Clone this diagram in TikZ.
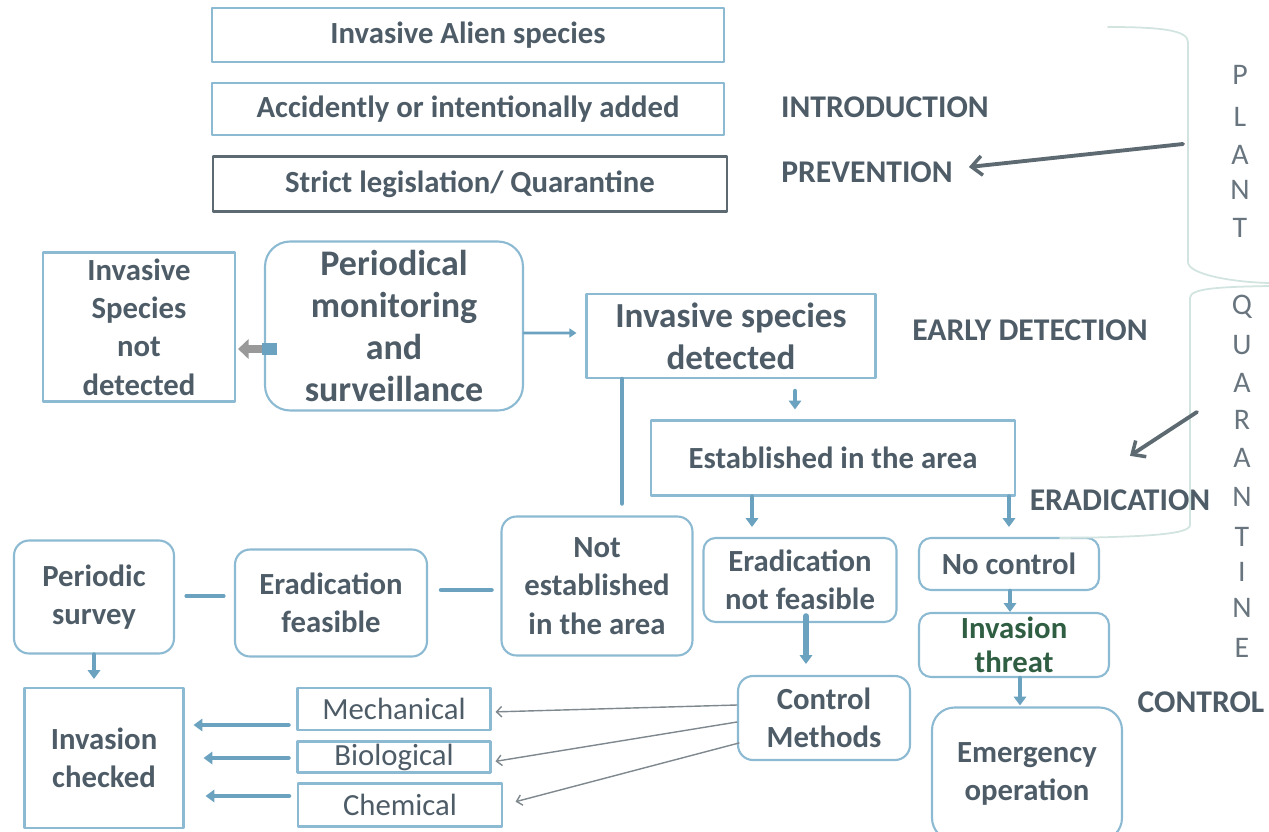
\documentclass[tikz,border=0pt]{standalone}
\usepackage{fontspec}
\setmainfont{Carlito}
\usetikzlibrary{arrows.meta}
\definecolor{boxline}{HTML}{8CBAD2}
\definecolor{txt}{HTML}{4E5C67}
\definecolor{flow}{HTML}{6AA2C0}
\definecolor{pointer}{HTML}{5E6A72}
\definecolor{brace}{HTML}{D2E4E0}
\definecolor{threattxt}{HTML}{2F5E42}
\begin{document}
\begin{tikzpicture}[x=0.02cm,y=-0.02cm,line cap=round,line join=round,
    box/.style={draw=boxline,line width=1.2pt,text=txt,align=center,inner sep=0pt,
      font=\bfseries\fontsize{17.5}{21.8}\selectfont},
    rbox/.style={box,rounded corners=0.3cm},
    method/.style={box,font=\fontsize{17.5}{20}\selectfont},
    lab/.style={text=txt,font=\bfseries\fontsize{18}{21}\selectfont},
    letter/.style={text=txt!85,font=\fontsize{17}{20}\selectfont},
    flow/.style={draw=flow,line width=2.6pt,-{Triangle[width=7pt,length=5pt]}},
    link/.style={draw=flow,line width=2.6pt},
    pointer/.style={draw=pointer,line width=2.2pt,-{Straight Barb[width=11pt,length=6pt,line width=2pt]}},
    thin/.style={draw=pointer!80,line width=0.8pt,-{Straight Barb[width=6pt,length=3pt]}}]
  \useasboundingbox (0,0) rectangle (1269,832);
  % introduction
  \node[box,minimum width=10.24cm,minimum height=1.08cm] (alien) at (468,35) {Invasive Alien species};
  \node[box,minimum width=10.24cm,minimum height=1.04cm] (added) at (468,109) {Accidently or intentionally added};
  \node[box,draw=pointer,minimum width=10.28cm,minimum height=1.1cm] (law) at (470,184) {Strict legislation/ Quarantine};
  % early detection
  \node[box,minimum width=3.84cm,minimum height=2.98cm] (notdet) at (139,327) {Invasive\\Species\\not\\detected};
  \node[box,rounded corners=0.5cm,minimum width=5.16cm,minimum height=3.38cm,
    font=\bfseries\fontsize{20.5}{23.8}\selectfont] (monitor) at (394,326) {Periodical\\monitoring\\and\\surveillance};
  \node[box,minimum width=5.78cm,minimum height=1.68cm,
    font=\bfseries\fontsize{20}{23.8}\selectfont] (detected) at (731,336) {Invasive species\\detected};
  \node[box,minimum width=7.28cm,minimum height=1.5cm] (established) at (833,458) {Established in the area};
  % eradication
  \node[rbox,minimum width=3.82cm,minimum height=2.78cm] (notest) at (597,586) {Not\\established\\in the area};
  \node[rbox,minimum width=3.84cm,minimum height=2.14cm] (feasible) at (331,603) {Eradication\\feasible};
  \node[rbox,minimum width=3.2cm,minimum height=2.26cm] (survey) at (94,597) {Periodic\\survey};
  \node[box,minimum width=3.18cm,minimum height=2.8cm] (checked) at (104,758) {Invasion\\checked};
  \node[rbox,rounded corners=0.24cm,minimum width=3.86cm,minimum height=1.68cm] (notfeasible) at (800,580) {Eradication\\not feasible};
  \node[rbox,rounded corners=0.24cm,minimum width=3.6cm,minimum height=1.04cm] (nocontrol) at (1009,564) {No control};
  % control
  \node[rbox,rounded corners=0.24cm,minimum width=3.8cm,minimum height=1.28cm,text=threattxt,
    font=\bfseries\fontsize{17.5}{19.3}\selectfont] (threat) at (1014,645) {Invasion\\threat};
  \node[rbox,minimum width=3.44cm,minimum height=1.68cm] (methods) at (824,718) {Control\\Methods};
  \node[rbox,rounded corners=0.45cm,minimum width=3.8cm,minimum height=2.66cm] (emergency) at (1027,774) {Emergency\\operation};
  \node[method,minimum width=3.86cm,minimum height=0.84cm] (mechanical) at (394,709) {Mechanical};
  \node[method,minimum width=3.86cm,minimum height=0.62cm] (biological) at (394,757) {Biological};
  \node[method,minimum width=4.08cm,minimum height=0.86cm] (chemical) at (400,805) {Chemical};
  % stage labels
  \node[lab] (introduction) at (885,107) {INTRODUCTION};
  \node[lab] (prevention) at (867,172) {PREVENTION};
  \node[lab] (early) at (1030,330) {EARLY DETECTION};
  \node[lab] (eradication) at (1120,500) {ERADICATION};
  \node[lab] (control) at (1201,702) {CONTROL};
  \foreach \l/\y [count=\i] in {P/75,L/117,A/155,N/190,T/228}
    \node[letter] (plant-\i) at (1240,\y) {\l};
  \foreach \l/\y [count=\i] in {Q/307,U/345,A/383,R/420,A/458,N/497,T/537,I/572,N/608,E/648}
    \node[letter] (quar-\i) at (1242,\y) {\l};
  % faint brackets
  \draw[brace,line width=1pt] (1108,27) .. controls (1160,27) and (1188,30) .. (1188,42) -- (1188,262)
    .. controls (1188,274) and (1230,282) .. (1269,283);
  \draw[brace,line width=1pt] (1269,286) .. controls (1220,287) and (1190,288) .. (1190,298) -- (1190,525)
    .. controls (1190,534) and (1150,537) .. (1060,538);
  \coordinate (plant-in) at (1183,144);
  \coordinate (quar-in) at (1197,412);
  \draw[pointer] (plant-in) -- ([xshift=0.2cm,yshift=0.1cm]prevention.east);
  \draw[pointer] (quar-in) -- ([xshift=0.2cm,yshift=0.55cm]eradication.north);
  % connectors
  \draw[draw=gray!80,line width=4.5pt,-{Triangle[width=11pt,length=6pt]}]
    ([yshift=-0.46cm]monitor.west) -- ([yshift=-0.44cm,xshift=0.04cm]notdet.east);
  \fill[color=flow] ([xshift=-0.04cm,yshift=-0.34cm]monitor.west) rectangle ([xshift=0.26cm,yshift=-0.58cm]monitor.west);
  \draw[draw=flow,line width=1.6pt,-{Triangle[width=5pt,length=4pt]}]
    ([yshift=-0.14cm]monitor.east) -- ([xshift=-0.18cm,yshift=0.06cm]detected.west);
  \draw[flow,shorten <=0.24cm,shorten >=0.2cm] ([xshift=1.28cm]detected.south) -- ([xshift=1.28cm]detected.south |- established.north);
  \draw[link,shorten >=0.24cm] ([xshift=-2.18cm]detected.south) -- ([xshift=-2.18cm]detected.south |- notest.north);
  \draw[flow,shorten >=0.2cm] ([xshift=-0.96cm]notfeasible.north |- established.south) -- ([xshift=-0.96cm]notfeasible.north);
  \draw[flow,shorten >=0.2cm] (nocontrol.north |- established.south) -- (nocontrol.north);
  \draw[link,shorten <=0.18cm,shorten >=0.26cm] ([yshift=-0.08cm]notest.west) -- ([yshift=-0.08cm]notest.west -| feasible.east);
  \draw[link,line width=1.8pt,shorten <=0.2cm,shorten >=0.22cm] ([yshift=0.14cm]feasible.west) -- ([yshift=0.14cm]feasible.west -| survey.east);
  \draw[flow,shorten >=0.16cm] (survey.south) -- (survey.south |- checked.north);
  \draw[flow,line width=3.2pt,shorten <=-0.14cm,shorten >=0.22cm] ([xshift=0.12cm]notfeasible.south) -- ([xshift=0.12cm]notfeasible.south |- methods.north);
  \draw[flow] ([xshift=0.02cm]nocontrol.south) -- ([xshift=0.02cm]nocontrol.south |- threat.north);
  \draw[flow,shorten >=0.02cm] ([xshift=0.12cm]threat.south) -- ([xshift=0.12cm]threat.south |- emergency.north);
  \draw[thin,shorten >=0.08cm] ([yshift=0.26cm]methods.west) -- ([yshift=-0.06cm]mechanical.east);
  \draw[thin,shorten >=0.08cm] ([yshift=-0.08cm]methods.west) -- ([yshift=-0.1cm]biological.east);
  \draw[thin,shorten >=0.26cm] ([xshift=0.04cm,yshift=-0.5cm]methods.west) -- (chemical.east);
  \draw[flow,shorten <=0.16cm,shorten >=0.18cm] ([yshift=-0.32cm]mechanical.west) -- ([yshift=-0.32cm]mechanical.west -| checked.east);
  \draw[flow,shorten <=0.16cm,shorten >=0.38cm] ([yshift=-0.02cm]biological.west) -- ([yshift=-0.02cm]biological.west -| checked.east);
  \draw[flow,shorten <=0.16cm,shorten >=0.42cm] ([yshift=0.18cm]chemical.west) -- ([yshift=0.18cm]chemical.west -| checked.east);
\end{tikzpicture}
\end{document}
